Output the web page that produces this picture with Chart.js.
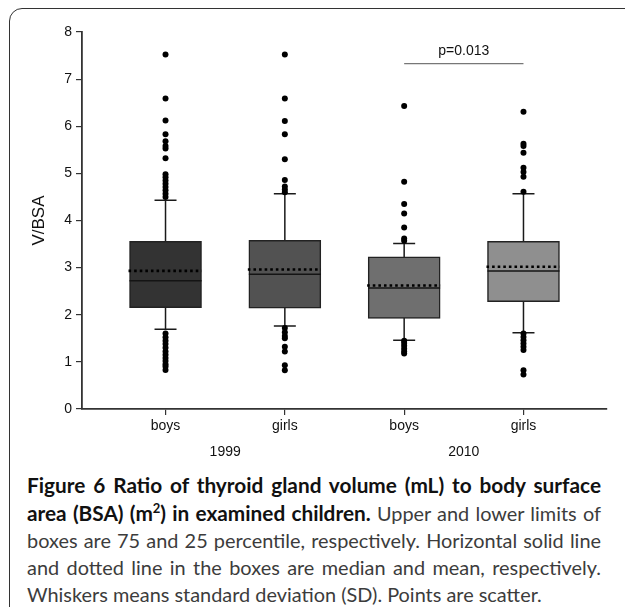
<!DOCTYPE html>
<html>
<head>
<meta charset="utf-8">
<script src="https://cdn.jsdelivr.net/npm/chart.js@4"></script>
<style>
    html, body { margin: 0; padding: 0; background: #fff; }
    body { width: 625px; height: 607px; position: relative; overflow: hidden; }
    #frame {
        position: absolute; left: 9px; top: 8px; width: 660px; height: 640px;
        border: 1.5px solid #333; border-radius: 13px; box-sizing: border-box;
    }
    #wrap { position: absolute; left: 0; top: 0; width: 625px; height: 470px; }
    #caption {
        position: absolute; left: 27px; top: 471px; width: 574px;
        font-family: "Lato", "Open Sans", sans-serif; font-size: 19.9px; line-height: 27px; color: #3c3c3c;
    }
    #caption div { white-space: nowrap; text-align: justify; text-align-last: justify; }
    #caption div.last { text-align-last: left; }
    #caption b { color: #111; font-weight: 700; font-size: 20.8px; }
</style>
</head>
<body>
<div id="frame"></div>
<div id="wrap"><canvas id="chart"></canvas></div>
<div id="caption">
    <div><b>Figure 6 Ratio of thyroid gland volume (mL) to body surface</b></div>
    <div><b>area (BSA) (m<sup style="font-size:13px;line-height:0">2</sup>) in examined children.</b> Upper and lower limits of</div>
    <div>boxes are 75 and 25 percentile, respectively. Horizontal solid line</div>
    <div>and dotted line in the boxes are median and mean, respectively.</div>
    <div class="last">Whiskers means standard deviation (SD). Points are scatter.</div>
</div>
<script>
// groups: 1999 boys, 1999 girls, 2010 boys, 2010 girls
const categories = ['boys', 'girls', 'boys', 'girls'];
const years = ['1999', '2010'];
const yTicks = [0, 1, 2, 3, 4, 5, 6, 7, 8];

const q1 = [2.15, 2.14, 1.92, 2.28];
const q3 = [3.56, 3.58, 3.23, 3.56];
const medians = [2.72, 2.86, 2.57, 2.93];
const means = [2.93, 2.96, 2.62, 3.02];
const sdLow = [1.69, 1.76, 1.46, 1.62];
const sdHigh = [4.43, 4.57, 3.51, 4.57];

const boys1999 = [7.52, 6.59, 6.12, 5.83, 5.68, 5.58, 5.53, 5.32, 4.98, 4.92, 4.85, 4.78, 4.71, 4.64, 4.57, 4.50,
    1.60, 1.52, 1.45, 1.38, 1.30, 1.22, 1.15, 1.08, 1.02, 0.95, 0.90, 0.83];
const girls1999 = [7.52, 6.59, 6.11, 5.83, 5.30, 4.86, 4.72, 4.66, 4.60,
    1.72, 1.63, 1.55, 1.50, 1.32, 1.22, 0.93, 0.82];
const boys2010 = [6.43, 4.82, 4.35, 4.15, 3.85, 3.62, 3.57,
    1.45, 1.40, 1.34, 1.28, 1.22, 1.18];
const girls2010 = [6.31, 5.63, 5.58, 5.44, 5.12, 5.03, 4.93, 4.61,
    1.60, 1.53, 1.46, 1.39, 1.32, 1.25, 0.82, 0.73];
const scatterGroups = [boys1999, girls1999, boys2010, girls2010];

const pText = 'p=0.013';
const pLevel = 7.33;
const pGroups = [2, 3];

const boxColors = ['#333333', '#525252', '#6f6f6f', '#8f8f8f'];
const fontFamily = '"Liberation Sans", Arial, sans-serif';

const scatterPoints = [];
scatterGroups.forEach((vals, i) => vals.forEach(v => scatterPoints.push({ x: i, y: v })));

const boxExtras = {
    id: 'boxExtras',
    beforeDatasetsDraw(chart) {
        const ctx = chart.ctx, x = chart.scales.x, y = chart.scales.y;
        ctx.save();
        ctx.strokeStyle = '#1a1a1a';
        ctx.lineWidth = 1.5;
        for (let i = 0; i < categories.length; i++) {
            const cx = x.getPixelForValue(i);
            ctx.beginPath();
            ctx.moveTo(cx, y.getPixelForValue(sdLow[i]));
            ctx.lineTo(cx, y.getPixelForValue(sdHigh[i]));
            [sdLow[i], sdHigh[i]].forEach(v => {
                const py = y.getPixelForValue(v);
                ctx.moveTo(cx - 11, py);
                ctx.lineTo(cx + 11, py);
            });
            ctx.stroke();
        }
        ctx.restore();
    },
    afterDatasetsDraw(chart) {
        const ctx = chart.ctx, x = chart.scales.x, y = chart.scales.y;
        const half = 36;
        ctx.save();
        for (let i = 0; i < categories.length; i++) {
            const cx = x.getPixelForValue(i);
            ctx.strokeStyle = '#141414';
            ctx.lineWidth = 1.5;
            ctx.setLineDash([]);
            ctx.beginPath();
            const my = y.getPixelForValue(medians[i]);
            ctx.moveTo(cx - half, my);
            ctx.lineTo(cx + half, my);
            ctx.stroke();
            ctx.strokeStyle = '#000';
            ctx.lineWidth = 2.6;
            ctx.setLineDash([2.6, 3]);
            ctx.beginPath();
            const ay = y.getPixelForValue(means[i]);
            ctx.moveTo(cx - half - 1, ay);
            ctx.lineTo(cx + half, ay);
            ctx.stroke();
        }
        ctx.setLineDash([]);
        // significance bar
        const x1 = x.getPixelForValue(pGroups[0]), x2 = x.getPixelForValue(pGroups[1]);
        const py = y.getPixelForValue(pLevel);
        ctx.strokeStyle = '#777';
        ctx.lineWidth = 1.2;
        ctx.beginPath();
        ctx.moveTo(x1, py);
        ctx.lineTo(x2, py);
        ctx.stroke();
        ctx.fillStyle = '#111';
        ctx.font = '14px ' + fontFamily;
        ctx.textAlign = 'center';
        ctx.textBaseline = 'middle';
        ctx.fillText(pText, (x1 + x2) / 2, py - 12);
        // year labels under the category ticks
        ctx.fillText(years[0], x.getPixelForValue(0.5), chart.chartArea.bottom + 43);
        ctx.fillText(years[1], x.getPixelForValue(2.5), chart.chartArea.bottom + 43);
        ctx.restore();
    }
};

new Chart(document.getElementById('chart'), {
    type: 'bar',
    data: {
        datasets: [{
            type: 'bar',
            data: categories.map((c, i) => ({ x: i, y: [q1[i], q3[i]] })),
            backgroundColor: boxColors,
            borderColor: '#222',
            borderWidth: 1.5,
            borderSkipped: false,
            barThickness: 72,
            order: 2
        }, {
            type: 'scatter',
            data: scatterPoints,
            backgroundColor: '#000',
            borderColor: '#000',
            pointRadius: 3,
            borderWidth: 0,
            order: 1
        }]
    },
    options: {
        responsive: true,
        maintainAspectRatio: false,
        animation: false,
        events: [],
        layout: { padding: { top: 32, right: 18, left: 0, bottom: 0 } },
        plugins: { legend: { display: false }, tooltip: { enabled: false } },
        scales: {
            x: {
                type: 'linear',
                offset: false,
                min: -0.70,
                max: 3.70,
                afterBuildTicks(scale) { scale.ticks = categories.map((c, i) => ({ value: i })); },
                afterFit(scale) { scale.height = 61; },
                ticks: {
                    callback: v => categories[v],
                    color: '#111',
                    padding: 3,
                    maxRotation: 0,
                    font: { family: fontFamily, size: 14 }
                },
                grid: { offset: false, drawOnChartArea: false, drawTicks: true, tickLength: 6, color: '#333', lineWidth: 1.2 },
                border: { display: true, color: '#333', width: 1.8 }
            },
            y: {
                min: 0,
                max: 8,
                afterBuildTicks(scale) { scale.ticks = yTicks.map(v => ({ value: v })); },
                afterFit(scale) { scale.width = 82; },
                title: {
                    display: true,
                    text: 'V/BSA',
                    color: '#111',
                    font: { family: fontFamily, size: 17 },
                    padding: { top: 29, bottom: 0 }
                },
                ticks: { color: '#111', padding: 4, font: { family: fontFamily, size: 14 } },
                grid: { drawOnChartArea: false, drawTicks: true, tickLength: 6, color: '#333', lineWidth: 1.2 },
                border: { display: true, color: '#333', width: 1.8 }
            }
        }
    },
    plugins: [boxExtras]
});
</script>
</body>
</html>
